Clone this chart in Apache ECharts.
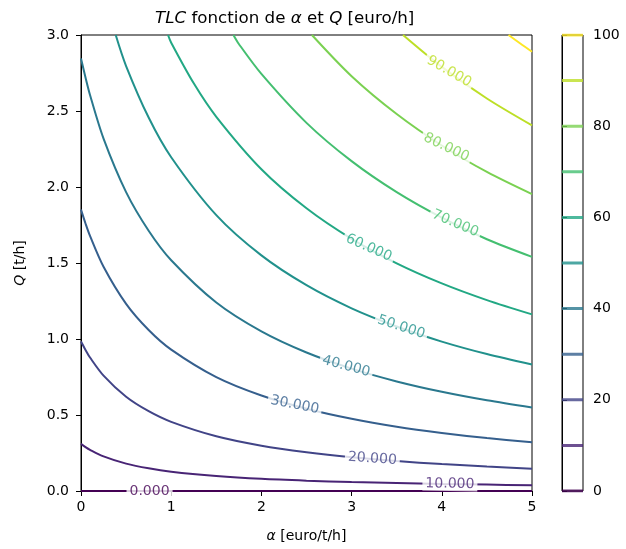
<!DOCTYPE html>
<html><head><meta charset="utf-8">
<script src="https://cdn.jsdelivr.net/npm/echarts@6/dist/echarts.min.js"></script>
<style>html,body{margin:0;padding:0;background:#fff}#c{width:626px;height:549px}</style>
</head><body><div id="c"></div>
<script>
// contour levels of TLC
const levels = [0, 10, 20, 30, 40, 50, 60, 70, 80, 90, 100];
// contour lines as [alpha, Q] points
const c0 = [[0, 0], [5, 0]];
const c10 = [[0,0.310],[0.05,0.289],[0.1,0.271],[0.25,0.228],[0.5,0.180],[0.75,0.149],[1,0.127],[1.5,0.099],[2,0.080],[2.5,0.068],[3,0.059],[3.5,0.052],[4,0.046],[4.5,0.042],[5,0.038]];
const c20 = [[0,0.983],[0.05,0.928],[0.1,0.878],[0.25,0.759],[0.5,0.620],[0.75,0.525],[1,0.455],[1.5,0.360],[2,0.298],[2.5,0.255],[3,0.222],[3.5,0.197],[4,0.177],[4.5,0.161],[5,0.147]];
const c30 = [[0,1.851],[0.05,1.760],[0.1,1.678],[0.25,1.475],[0.5,1.231],[0.75,1.059],[1,0.930],[1.5,0.749],[2,0.628],[2.5,0.541],[3,0.475],[3.5,0.423],[4,0.382],[4.5,0.348],[5,0.320]];
const c40 = [[0,2.846],[0.05,2.720],[0.1,2.605],[0.25,2.318],[0.5,1.966],[0.75,1.712],[1,1.518],[1.5,1.240],[2,1.050],[2.5,0.911],[3,0.805],[3.5,0.721],[4,0.653],[4.5,0.597],[5,0.550]];
const c50 = [[0.385,3.0],[0.5,2.796],[0.75,2.457],[1,2.196],[1.5,1.815],[2,1.550],[2.5,1.354],[3,1.202],[3.5,1.082],[4,0.983],[4.5,0.901],[5,0.832]];
const c60 = [[0.965,3.0],[1,2.949],[1.25,2.682],[1.5,2.462],[2,2.117],[2.5,1.860],[3,1.659],[3.5,1.498],[4,1.366],[4.5,1.256],[5,1.162]];
const c70 = [[1.69,3.0],[1.75,2.941],[2,2.744],[2.5,2.422],[3,2.170],[3.5,1.966],[4,1.798],[4.5,1.656],[5,1.540]];
const c80 = [[2.56,3.0],[3,2.729],[3.5,2.480],[4,2.273],[4.5,2.099],[5,1.953]];
const c90 = [[3.57,3.0],[4,2.790],[4.5,2.582],[5,2.405]];
const c100 = [[4.74,3.0],[4.87,2.944],[5,2.890]];
const contours = [c0, c10, c20, c30, c40, c50, c60, c70, c80, c90, c100];
// inline contour labels: [alpha, Q, level]
const labelPoints = [[0.76,0,0],[4.09,0.046,10],[3.23,0.212,20],[2.37,0.566,30],[2.94,0.82,40],[3.55,1.078,50],[3.19,1.60,60],[4.15,1.76,70],[4.05,2.26,80],[4.08,2.76,90]];
const labelAngles = [0, -1, -4, -11, -15, -18, -24, -23, -26, -30];
// viridis colors for the levels
const viridis = ['#440154','#482475','#414487','#355f8d','#2a788e','#21918c','#22a884','#44bf70','#7ad151','#bddf26','#fde725'];

const FONT = 'DejaVu Sans';
const chart = echarts.init(document.getElementById('c'), null, {renderer: 'canvas'});
const series = [];
contours.forEach((pts, i) => {
  series.push({
    type: 'line', xAxisIndex: 0, yAxisIndex: 0, data: pts, showSymbol: false, symbol: 'none',
    smooth: 0.3, silent: true, animation: false, z: 2,
    lineStyle: {color: viridis[i], width: 2}
  });
});
series.push({
  type: 'scatter', xAxisIndex: 0, yAxisIndex: 0, symbolSize: 0, silent: true, animation: false, z: 10,
  data: labelPoints.map((p, i) => ({
    value: p,
    label: {
      show: true, position: 'inside', rotate: labelAngles[i],
      formatter: (q) => q.value[2].toFixed(3),
      color: viridis[levels.indexOf(p[2])], fontFamily: FONT, fontSize: 14,
      backgroundColor: '#fff', padding: [0, 3]
    }
  }))
});
levels.forEach((lv, i) => {
  series.push({
    type: 'line', xAxisIndex: 1, yAxisIndex: 1, data: [[0, lv], [1, lv]], symbol: 'none',
    silent: true, animation: false, z: 3, lineStyle: {color: viridis[i], width: 3, opacity: 0.8}
  });
});

const axisTxt = {color: '#000', fontFamily: FONT, fontSize: 14};
chart.setOption({
  backgroundColor: '#fff',
  animation: false,
  title: {
    text: '{i|TLC} fonction de {i|α} et {i|Q} [euro/h]',
    left: 150, top: 5,
    textStyle: {color: '#000', fontFamily: FONT, fontSize: 16.7, fontWeight: 'normal',
      rich: {i: {fontStyle: 'italic', fontFamily: FONT, fontSize: 16.7, color: '#000'}}}
  },
  grid: [
    {left: 81, top: 35, width: 451, height: 456, show: true, borderColor: '#000', borderWidth: 1, backgroundColor: 'transparent'},
    {left: 562, top: 35, width: 21, height: 456, show: true, borderColor: '#000', borderWidth: 1, backgroundColor: 'transparent'}
  ],
  xAxis: [
    {gridIndex: 0, type: 'value', min: 0, max: 5, interval: 1,
     name: '{i|α} [euro/t/h]', nameLocation: 'middle', nameGap: 38,
     nameTextStyle: Object.assign({}, axisTxt, {rich: {i: {fontStyle: 'italic', fontFamily: FONT, fontSize: 14, color: '#000'}}}),
     axisLine: {show: true, lineStyle: {color: '#000', width: 1}},
     axisTick: {show: true, inside: false, length: 5, lineStyle: {color: '#000'}},
     axisLabel: Object.assign({}, axisTxt, {margin: 9, formatter: (v) => String(v)}),
     splitLine: {show: false}},
    {gridIndex: 1, type: 'value', min: 0, max: 1, show: false}
  ],
  yAxis: [
    {gridIndex: 0, type: 'value', min: 0, max: 3, interval: 0.5,
     name: '{i|Q} [t/h]', nameLocation: 'middle', nameGap: 54, nameRotate: 90,
     nameTextStyle: Object.assign({}, axisTxt, {rich: {i: {fontStyle: 'italic', fontFamily: FONT, fontSize: 14, color: '#000'}}}),
     axisLine: {show: true, lineStyle: {color: '#000', width: 1}},
     axisTick: {show: true, inside: false, length: 5, lineStyle: {color: '#000'}},
     axisLabel: Object.assign({}, axisTxt, {margin: 12, formatter: (v) => v.toFixed(1)}),
     splitLine: {show: false}},
    {gridIndex: 1, type: 'value', min: 0, max: 100, interval: 20, position: 'right',
     axisLine: {show: true, lineStyle: {color: '#000', width: 1}},
     axisTick: {show: true, inside: false, length: 5, lineStyle: {color: '#000'}},
     axisLabel: Object.assign({}, axisTxt, {margin: 10}),
     splitLine: {show: false}}
  ],
  series: series
});
</script></body></html>
